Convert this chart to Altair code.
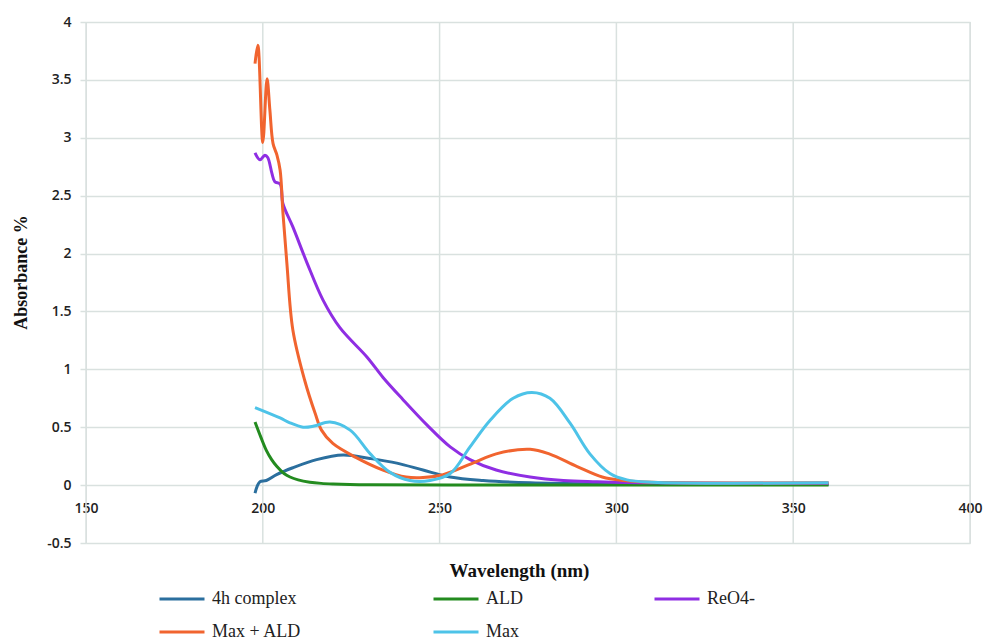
import altair as alt
import pandas as pd

# Series names and colours
series_names = ["4h complex", "ALD", "ReO4-", "Max + ALD", "Max"]
series_colors = ["#2b6f9e", "#238b1f", "#8f2ee3", "#f1642f", "#4dc3e8"]

# UV-Vis spectra: wavelength (nm) and absorbance for each sample
wl_complex = [197.8, 198.4, 199.2, 201.0, 203.9, 208.5, 215.2, 222.7, 230.3, 237.9,
              245.3, 253.0, 262.3, 275.6, 300.0, 330.0, 360.0]
ab_complex = [-0.07, -0.01, 0.03, 0.04, 0.09, 0.15, 0.22, 0.26, 0.23, 0.19,
              0.13, 0.07, 0.04, 0.02, 0.01, 0.005, 0.005]

wl_ald = [197.8, 199.5, 201.0, 202.5, 204.0, 206.0, 207.7, 210.0, 213.3, 216.5,
          219.9, 230.0, 260.0, 300.0, 360.0]
ab_ald = [0.545, 0.41, 0.30, 0.22, 0.16, 0.10, 0.07, 0.045, 0.025, 0.015,
          0.01, 0.003, 0.0, 0.0, 0.0]

wl_reo4 = [197.8, 199.2, 200.6, 201.4, 202.6, 203.4, 204.9, 205.7, 208.5, 212.5,
           217.0, 221.8, 229.5, 234.0, 239.6, 246.4, 253.0, 258.6, 266.0, 275.6,
           285.0, 294.5, 310.0, 360.0]
ab_reo4 = [2.87, 2.81, 2.85, 2.83, 2.69, 2.62, 2.60, 2.43, 2.23, 1.92,
           1.60, 1.36, 1.105, 0.93, 0.74, 0.52, 0.33, 0.22, 0.13, 0.07,
           0.04, 0.03, 0.02, 0.015]

wl_max_ald = [197.8, 198.6, 200.0, 201.2, 202.0, 202.9, 204.0, 204.9, 205.7, 206.8,
              208.5, 211.8, 214.8, 216.6, 219.8, 226.3, 234.0, 240.5, 245.3, 251.0,
              259.4, 266.0, 275.6, 281.0, 288.9, 296.0, 301.9, 310.0, 360.0]
ab_max_ald = [3.64, 3.80, 2.96, 3.51, 3.24, 2.95, 2.85, 2.72, 2.35, 1.92,
              1.34, 0.91, 0.62, 0.475, 0.36, 0.24, 0.13, 0.07, 0.065, 0.09,
              0.19, 0.27, 0.31, 0.27, 0.16, 0.07, 0.04, 0.025, 0.02]

wl_max = [197.8, 204.9, 207.5, 211.4, 214.5, 219.0, 224.7, 230.4, 236.0, 241.6,
          247.3, 253.0, 258.6, 264.3, 270.8, 276.1, 281.2, 286.9, 292.5, 298.2,
          303.0, 310.0, 360.0]
ab_max = [0.67, 0.58, 0.54, 0.50, 0.51, 0.545, 0.475, 0.27, 0.11, 0.04,
          0.04, 0.10, 0.33, 0.56, 0.75, 0.80, 0.75, 0.535, 0.27, 0.10,
          0.045, 0.025, 0.02]

x_ticks = [150, 200, 250, 300, 350, 400]
y_ticks = [-0.5, 0, 0.5, 1, 1.5, 2, 2.5, 3, 3.5, 4]

spectra = [
    ("4h complex", wl_complex, ab_complex),
    ("ALD", wl_ald, ab_ald),
    ("ReO4-", wl_reo4, ab_reo4),
    ("Max + ALD", wl_max_ald, ab_max_ald),
    ("Max", wl_max, ab_max),
]
rows = []
for name, wls, vals in spectra:
    for w, v in zip(wls, vals):
        rows.append({"series": name, "wavelength": w, "absorbance": v})
df = pd.DataFrame(rows)

grid_color = "#d9e1df"
tick_font = "Open Sans"
serif = "Liberation Serif"

x_scale = alt.Scale(domain=[150, 400], nice=False, zero=False)
y_scale = alt.Scale(domain=[-0.5, 4], nice=False)

# The x axis sits on the zero line; its labels are drawn there
x_axis = alt.Axis(
    values=x_ticks,
    offset=-58,
    grid=False,
    domain=False,
    ticks=False,
    labelFlush=False,
    labelOverlap=False,
    labelFont=tick_font,
    labelFontWeight=600,
    labelFontSize=14,
    labelColor="#222222",
    labelPadding=16,
    title="Wavelength (nm)",
    titleFont=serif,
    titleFontWeight="bold",
    titleFontSize=19,
    titleColor="#111111",
    titleX=433,
    titleY=85,
    titleBaseline="middle",
    titleAlign="center",
)

# Vertical gridlines across the full plot height
vgrid = alt.Chart(pd.DataFrame({"wavelength": x_ticks})).mark_rule(
    color=grid_color, strokeWidth=1.5
).encode(x=alt.X("wavelength:Q", scale=x_scale, axis=x_axis))

lines = alt.Chart(df).mark_line(strokeWidth=3, interpolate="catmull-rom").encode(
    x=alt.X("wavelength:Q", scale=x_scale, axis=x_axis),
    y=alt.Y(
        "absorbance:Q",
        scale=y_scale,
        axis=alt.Axis(
            values=y_ticks,
            labelExpr="'' + datum.value",
            grid=True,
            gridColor=grid_color,
            gridWidth=1.5,
            domain=False,
            ticks=True,
            tickColor=grid_color,
            tickWidth=1.5,
            tickSize=6,
            labelFlush=False,
            labelOverlap=False,
            labelFont=tick_font,
            labelFontWeight=600,
            labelFontSize=14,
            labelColor="#222222",
            labelPadding=9,
            title="Absorbance %",
            titleFont=serif,
            titleFontWeight="bold",
            titleFontSize=18,
            titleColor="#111111",
            titleX=-65,
            titleY=250,
            titleAngle=-90,
            titleBaseline="middle",
            titleAlign="center",
        ),
    ),
    color=alt.Color(
        "series:N",
        scale=alt.Scale(domain=series_names, range=series_colors),
        sort=series_names,
        legend=alt.Legend(
            title=None,
            orient="none",
            legendX=72,
            legendY=553,
            direction="horizontal",
            columns=3,
            symbolType="stroke",
            symbolSize=2025,
            symbolStrokeWidth=3,
            labelFont=serif,
            labelFontSize=18,
            labelColor="#222222",
            labelOffset=6,
            labelLimit=0,
            columnPadding=125,
            rowPadding=-5,
            padding=0,
        ),
    ),
    order=alt.Order("wavelength:Q"),
)

chart = alt.layer(vgrid, lines).properties(
    width=884,
    height=521,
    padding={"left": 86, "top": 22, "right": 19, "bottom": 98},
    autosize=alt.AutoSizeParams(type="none"),
).configure_view(stroke=None).configure(background="white")

chart.save("out.html", embed_options={"renderer": "svg", "actions": False})
